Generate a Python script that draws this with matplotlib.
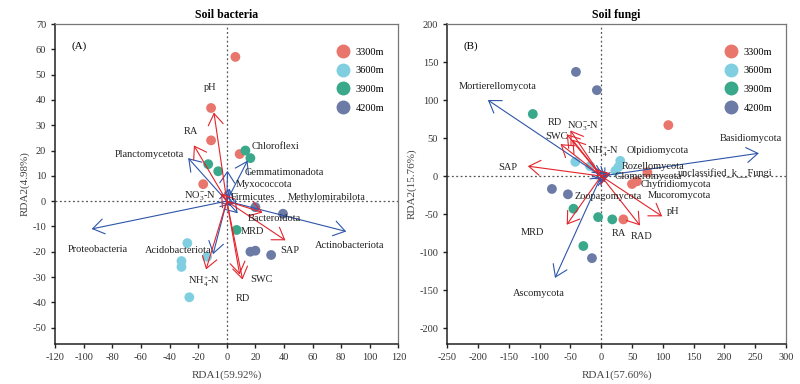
import numpy as np
import matplotlib
matplotlib.use("Agg")
import matplotlib.pyplot as plt
from matplotlib.lines import Line2D

plt.rcParams['font.family'] = ['Liberation Serif', 'DejaVu Serif']
plt.rcParams['mathtext.fontset'] = 'custom'
plt.rcParams['mathtext.rm'] = 'Liberation Serif'
plt.rcParams['mathtext.it'] = 'Liberation Serif:italic'
plt.rcParams['axes.unicode_minus'] = False

groups = ['3300m', '3600m', '3900m', '4200m']
group_colors = ['#e8766c', '#80cfe0', '#3aa88a', '#6c7ba6']

# ---- panel A: soil bacteria ----
bac_x = [[6, -11, -11, 9, -16.5],
         [-27.6, -31.7, -31.7, -13.8, -26.2],
         [13, 16.5, -13, -6, 6.9],
         [20, 39.3, 16.5, 20, 31]]
bac_y = [[57, 36.8, 24, 18.6, 6.7],
         [-16.6, -23.7, -26, -22, -38],
         [20, 17, 14.6, 11.8, -11.4],
         [-2.4, -5, -20, -19.6, -21.3]]

bac_env = ['pH', 'RA', r'NO$_3^{-}$-N', r'NH$_4^{+}$-N', 'SWC', 'RD', 'SAP', 'MRD']
bac_env_x = [-9, -23, -4, -14.5, 11, 9, 41, 25]
bac_env_y = [35, 22, 3, -27, -31, -29, -15.5, -4.5]

bac_sp = ['Proteobacteria', 'Actinobacteriota', 'Planctomycetota', 'Chloroflexi',
          'Gemmatimonadota', 'Myxococcota', 'Firmicutes', 'Methylomirabilota',
          'Bacteroidota', 'Acidobacteriota']
bac_sp_x = [-94.5, 83.5, -27, 14.5, 0.5, 2, 3, 5, 7.6, -9.6]
bac_sp_y = [-11, -12, 17, 16, 12, 5, -2, -1, -4.8, -21]

# label anchors (text positions)
bac_env_lab = [(-11.5, 45), (-25, 27.5), (-19, 2), (-16, -32), (24, -31),
               (11.5, -38.5), (44, -19.5), (18, -12)]
bac_sp_lab = [(-90, -19), (86, -17.5), (-54, 18.5), (34, 21.5), (40, 11.5),
              (26, 6.5), (18, 1.5), (70, 1.5), (33, -7), (-34, -19.5)]

# ---- panel B: soil fungi ----
fun_x = [[109, 75, 50, 58, 36],
         [-42, -18, 31, 28, 23],
         [-111, -45, -5, 18, -29],
         [-41, -7, -80, -54, -15]]
fun_y = [[67, 5, -10.5, -7, -57],
         [18.7, 13, 20, 12, 7],
         [81.6, -43, -54, -57, -92],
         [137, 113, -17, -24, -108]]

fun_env = ['RD', r'NO$_3^{-}$-N', 'SWC', r'NH$_4^{+}$-N', 'SAP', 'pH', 'RAD', 'RA', 'MRD']
fun_env_x = [-56, -50, -66, -47, -119, 99, 63, 14, -56]
fun_env_y = [55, 60, 42, 48, 13, -53, -65, 4, -64]

fun_sp = ['Mortierellomycota', 'Basidiomycota', 'Ascomycota', 'unclassified_k__Fungi',
          'Olpidiomycota', 'Rozellomycota', 'Glomeromycota', 'Chytridiomycota',
          'Mucoromycota', 'Zoopagomycota']
fun_sp_x = [-184, 256, -75, 15, 10, 8, 5, 8, 6, -3]
fun_sp_y = [100, 30, -134, 2, 5, 3, -2, -5, -8, -8]

fun_env_lab = [(-75, 71), (-29, 65), (-72, 52), (3, 32), (-152, 11), (117, -47),
               (65, -79), (28, -76), (-112, -74)]
fun_sp_lab = [(-168, 118), (243, 50), (-101, -154), (202, 4), (92, 33), (85, 12),
              (77, 0), (121, -11), (127, -25), (11, -27)]

RED = '#e3242b'
BLUE = '#2d55a8'


def draw_panel(ax, xs, ys, env, ex, ey, elab, sp, sx, sy, slab, xlim, ylim, xt, yt,
               title, tag, xlabel, ylabel):
    ax.axhline(0, color='#555555', ls=(0, (1.5, 2)), lw=0.9, zorder=1)
    ax.axvline(0, color='#555555', ls=(0, (1.5, 2)), lw=0.9, zorder=1)
    for gx, gy, c in zip(xs, ys, group_colors):
        ax.scatter(gx, gy, s=50, color=c, edgecolors='none', zorder=3)
    for x, y in zip(sx, sy):
        ax.annotate('', xy=(x, y), xytext=(0, 0),
                    arrowprops=dict(arrowstyle='->,head_length=0.45,head_width=0.3', color=BLUE,
                                    lw=0.8, mutation_scale=18, shrinkA=0, shrinkB=0), zorder=4)
    for x, y in zip(ex, ey):
        ax.annotate('', xy=(x, y), xytext=(0, 0),
                    arrowprops=dict(arrowstyle='->,head_length=0.45,head_width=0.3', color=RED,
                                    lw=0.8, mutation_scale=18, shrinkA=0, shrinkB=0), zorder=5)
    for name, (lx, ly) in zip(sp, slab):
        ax.text(lx, ly, name, fontsize=7.5, ha='center', va='center', color='#222222', zorder=6)
    for name, (lx, ly) in zip(env, elab):
        ax.text(lx, ly, name, fontsize=7.5, ha='center', va='center', color='#222222', zorder=6)
    ax.set_xlim(*xlim)
    ax.set_ylim(*ylim)
    ax.set_xticks(xt)
    ax.set_yticks(yt)
    ax.tick_params(labelsize=7.5, length=3, width=1, color='#222222', labelcolor='#333333')
    for s in ['left', 'bottom']:
        ax.spines[s].set_linewidth(1.1)
        ax.spines[s].set_color('#222222')
    for s in ['top', 'right']:
        ax.spines[s].set_linewidth(0.9)
        ax.spines[s].set_color('#777777')
    ax.set_title(title, fontsize=8.5, fontweight='bold', pad=4)
    ax.set_xlabel(xlabel, fontsize=8, color='#444444', labelpad=6)
    ax.set_ylabel(ylabel, fontsize=8, color='#444444', labelpad=2)
    ax.text(0.07, 0.93, tag, transform=ax.transAxes, fontsize=8, ha='center', va='center')
    handles = [Line2D([], [], marker='o', ls='none', color=c, markersize=9) for c in group_colors]
    ax.legend(handles, groups, loc='upper right', bbox_to_anchor=(0.98, 0.95), frameon=False,
              fontsize=7.5, labelspacing=0.9, handletextpad=0.2, borderaxespad=0.3)


fig = plt.figure(figsize=(8, 3.84), dpi=100)
axA = fig.add_axes([0.069, 0.104, 0.429, 0.8335])
axB = fig.add_axes([0.559, 0.104, 0.4235, 0.8335])

draw_panel(axA, bac_x, bac_y, bac_env, bac_env_x, bac_env_y, bac_env_lab,
           bac_sp, bac_sp_x, bac_sp_y, bac_sp_lab,
           (-120, 120), (-56.5, 70), np.arange(-120, 121, 20), np.arange(-50, 71, 10),
           'Soil bacteria', '(A)', 'RDA1(59.92%)', 'RDA2(4.98%)')
draw_panel(axB, fun_x, fun_y, fun_env, fun_env_x, fun_env_y, fun_env_lab,
           fun_sp, fun_sp_x, fun_sp_y, fun_sp_lab,
           (-250, 300), (-221, 200), np.arange(-250, 301, 50), np.arange(-200, 201, 50),
           'Soil fungi', '(B)', 'RDA1(57.60%)', 'RDA2(15.76%)')

fig.savefig('out.png', dpi=100)
